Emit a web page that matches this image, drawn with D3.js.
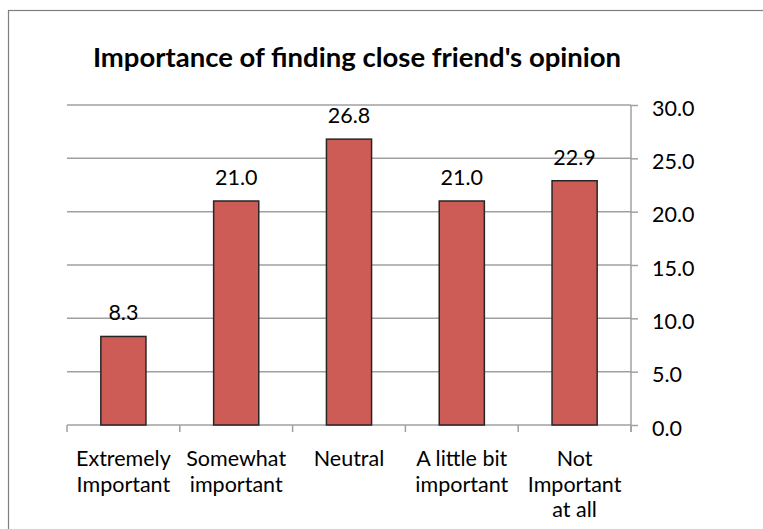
<!DOCTYPE html>
<html>
<head>
<meta charset="utf-8">
<script src="https://cdn.jsdelivr.net/npm/d3@7"></script>
<style>
  body { margin: 0; background: #fff; }
  svg { display: block; font-family: Lato, "Open Sans", sans-serif; }
</style>
</head>
<body>
<svg id="chart" width="763" height="529"></svg>
<script>
var categories = [
    ["Extremely", "Important"],
    ["Somewhat", "important"],
    ["Neutral"],
    ["A little bit", "important"],
    ["Not", "Important", "at all"]
];
var values = [8.3, 21.0, 26.8, 21.0, 22.9];
var yTicks = [0, 5, 10, 15, 20, 25, 30];
var title = "Importance of finding close friend's opinion";

var svg = d3.select("#chart");
var plotLeft = 67, plotRight = 631, plotTop = 105, plotBottom = 425;
var FONT_SIZE = 21.5;

// outer frame of the chart area
svg.append("rect")
    .attr("x", 8.5).attr("y", 10.5)
    .attr("width", 800).attr("height", 600)
    .attr("fill", "none").attr("stroke", "#7f7f7f").attr("stroke-width", 1.2);

svg.append("text")
    .attr("x", 357).attr("y", 67)
    .attr("text-anchor", "middle")
    .attr("font-size", 27.5).attr("font-weight", "bold")
    .attr("fill", "#000")
    .text(title);

var x = d3.scaleBand()
    .domain(d3.range(values.length))
    .range([plotLeft, plotRight])
    .paddingInner(0.6)
    .paddingOuter(0.3);

var y = d3.scaleLinear().domain([0, 30]).range([plotBottom, plotTop]);

// gridlines
svg.append("g").selectAll("line")
    .data(yTicks.slice(1))
    .join("line")
    .attr("x1", plotLeft).attr("x2", plotRight)
    .attr("y1", function (d) { return y(d); })
    .attr("y2", function (d) { return y(d); })
    .attr("stroke", "#a0a0a0").attr("stroke-width", 1.5);

// right axis
var yAxis = svg.append("g")
    .attr("transform", "translate(" + plotRight + ",0)")
    .call(d3.axisRight(y).tickValues(yTicks).tickSize(7).tickPadding(14)
        .tickFormat(d3.format(".1f")));
yAxis.select(".domain").remove();
yAxis.append("line")
    .attr("x1", 0).attr("x2", 0)
    .attr("y1", plotTop).attr("y2", plotBottom + 7)
    .attr("stroke", "#a0a0a0").attr("stroke-width", 1.5);
yAxis.selectAll(".tick line").attr("stroke", "#a0a0a0").attr("stroke-width", 1.5);
yAxis.selectAll(".tick text")
    .attr("font-size", FONT_SIZE).attr("fill", "#000")
    .attr("dy", "0.48em")
    .attr("font-family", "Lato, 'Open Sans', sans-serif");

// x axis baseline with category separators
svg.append("line")
    .attr("x1", plotLeft).attr("x2", plotRight)
    .attr("y1", plotBottom).attr("y2", plotBottom)
    .attr("stroke", "#a0a0a0").attr("stroke-width", 1.5);
svg.append("g").selectAll("line")
    .data(d3.range(values.length + 1))
    .join("line")
    .attr("x1", function (i) { return plotLeft + i * (plotRight - plotLeft) / values.length; })
    .attr("x2", function (i) { return plotLeft + i * (plotRight - plotLeft) / values.length; })
    .attr("y1", plotBottom).attr("y2", plotBottom + 7)
    .attr("stroke", "#a0a0a0").attr("stroke-width", 1.5);

// bars
svg.append("g").selectAll("rect")
    .data(values)
    .join("rect")
    .attr("x", function (d, i) { return x(i); })
    .attr("y", function (d) { return y(d); })
    .attr("width", x.bandwidth())
    .attr("height", function (d) { return plotBottom - y(d); })
    .attr("fill", "#cd5c57")
    .attr("stroke", "#262626").attr("stroke-width", 1.5);

// value labels
svg.append("g").selectAll("text")
    .data(values)
    .join("text")
    .attr("x", function (d, i) { return x(i) + x.bandwidth() / 2; })
    .attr("y", function (d) { return y(d) - 16; })
    .attr("text-anchor", "middle")
    .attr("font-size", FONT_SIZE).attr("fill", "#000")
    .text(function (d) { return d3.format(".1f")(d); });

// category labels
var cat = svg.append("g").selectAll("text")
    .data(categories)
    .join("text")
    .attr("x", function (d, i) { return x(i) + x.bandwidth() / 2; })
    .attr("y", 466)
    .attr("text-anchor", "middle")
    .attr("font-size", FONT_SIZE).attr("fill", "#000");
cat.selectAll("tspan")
    .data(function (d) { return d; })
    .join("tspan")
    .attr("x", function () { return this.parentNode.getAttribute("x"); })
    .attr("dy", function (d, i) { return i === 0 ? 0 : 25.5; })
    .text(function (d) { return d; });
</script>
</body>
</html>
